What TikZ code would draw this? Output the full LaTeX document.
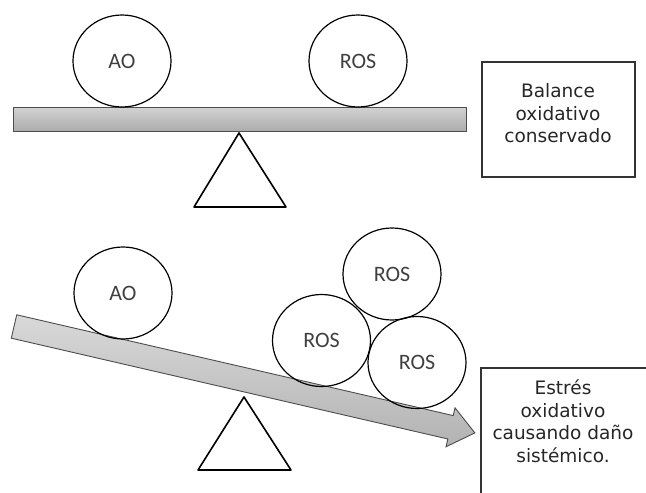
\documentclass[tikz,border=0pt]{standalone}
\usepackage{fontspec}
\setmainfont{DejaVu Sans}
\newfontfamily\ballfont{Carlito}
\usetikzlibrary{shapes.geometric}

\begin{document}
\begin{tikzpicture}[x=1pt, y=-1pt,
ballnode/.style={ellipse, draw=black, line width=1.2pt, minimum width=98pt, minimum height=92pt, inner sep=0pt, font=\ballfont\fontsize{22}{26}\selectfont, text=black!75},
infobox/.style={rectangle, draw=black!80, line width=1.3pt, inner sep=0pt},
infotext/.style={align=center, font=\fontsize{18.5}{22.5}\selectfont, text=black!85},
beam/.style={draw=black!70, line width=0.9pt, top color=gray!35, middle color=gray!6, bottom color=gray!65},
fulcrum/.style={draw=black, line width=1.6pt, line join=round},
]
\useasboundingbox (0,0) rectangle (646,493);
\clip (0,0) rectangle (646,493);
%Balance
\draw[beam] (13,107) rectangle (466,131);
\draw[fulcrum] (239,133) -- (286,207) -- (194,207) -- cycle;
\node[ballnode]      at (122,61) (aoTop) {AO};
\node[ballnode]      at (358,61) (rosTop) {ROS};
\node[infobox, minimum width=153pt, minimum height=115pt] at (558.5,119.5) (boxTop) {};
\node[infotext]      at (558,113.5) (textTop) {Balance\\oxidativo\\conservado};
%Tilted
\begin{scope}[shift={(14,326.5)}, rotate=-13]
\draw[beam, top color=gray!30, middle color=gray!12, bottom color=gray!60]
  (0,-12) -- (448,-12) -- (448,-20) -- (473,0) -- (448,20) -- (448,12) -- (0,12) -- cycle;
\end{scope}
\draw[fulcrum] (244,397) -- (291,470) -- (198,470) -- cycle;
\node[ballnode]      at (123,293) (aoLow) {AO};
\node[ballnode]      at (392,274) (rosUp) {ROS};
\node[ballnode]      at (321.5,340.5) (rosLeft) {ROS};
\node[ballnode]      at (417,362.5) (rosRight) {ROS};
\node[infobox, minimum width=174pt, minimum height=137pt] at (568,436.5) (boxLow) {};
\node[infotext]      at (563,421) (textLow) {Estrés\\oxidativo\\causando daño\\sistémico.};
\end{tikzpicture}
\end{document}
